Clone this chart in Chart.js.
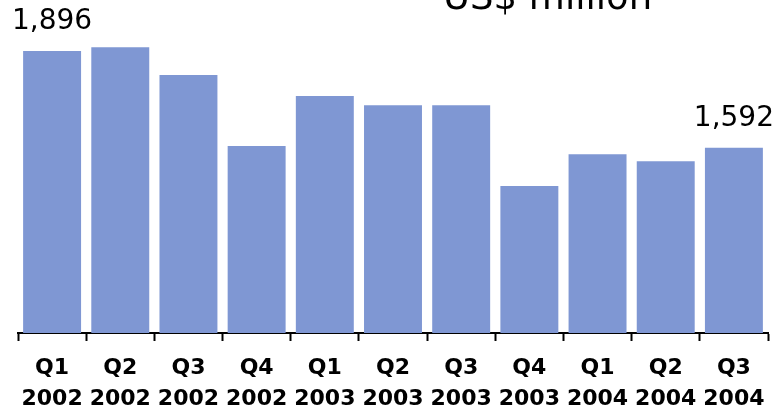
<!DOCTYPE html>
<html>
<head>
<meta charset="utf-8">
<script src="https://cdn.jsdelivr.net/npm/chart.js@4"></script>
<style>
  html, body { margin: 0; padding: 0; background: #ffffff; }
  #wrap { width: 775px; height: 410px; position: relative; }
</style>
</head>
<body>
<div id="wrap"><canvas id="c"></canvas></div>
<script>
const quarters = ["Q1","Q2","Q3","Q4","Q1","Q2","Q3","Q4","Q1","Q2","Q3"];
const years = ["2002","2002","2002","2002","2003","2003","2003","2003","2004","2004","2004"];
const revenue = [1896, 1908, 1821, 1598, 1755, 1726, 1726, 1472, 1572, 1550, 1592];
const labelledIndexes = [0, 10];
const unitTitle = "US$ million";
const yMin = 1010;
const yMax = 2000;

const categories = quarters.map((q, i) => [q, years[i]]);

const extrasPlugin = {
  id: 'extras',
  afterDatasetsDraw(chart) {
    const ctx = chart.ctx;
    const meta = chart.getDatasetMeta(0);
    ctx.save();
    ctx.fillStyle = '#000000';
    ctx.font = '28px "DejaVu Sans"';
    ctx.textAlign = 'center';
    ctx.textBaseline = 'alphabetic';
    labelledIndexes.forEach(i => {
      const bar = meta.data[i];
      ctx.fillText(revenue[i].toLocaleString('en-US'), bar.x, bar.y - 22);
    });
    ctx.font = '37px "DejaVu Sans"';
    ctx.textAlign = 'left';
    ctx.fillText(unitTitle, 443, 9);
    ctx.restore();
  }
};

new Chart(document.getElementById('c'), {
  type: 'bar',
  data: {
    labels: categories,
    datasets: [{
      data: revenue,
      backgroundColor: '#7F97D3',
      borderWidth: 0,
      barPercentage: 0.85,
      categoryPercentage: 1.0
    }]
  },
  options: {
    responsive: true,
    maintainAspectRatio: false,
    animation: false,
    layout: { padding: { top: 18, left: 18, right: 7, bottom: 0 } },
    plugins: {
      legend: { display: false },
      tooltip: { enabled: false },
      title: { display: false }
    },
    scales: {
      y: {
        display: false,
        min: yMin,
        max: yMax
      },
      x: {
        afterFit(scale) {
          scale.height = 77;
          scale.paddingLeft = 0;
          scale.paddingRight = 0;
        },
        border: { display: true, color: '#000000', width: 2 },
        grid: {
          display: true,
          offset: true,
          drawOnChartArea: false,
          drawTicks: true,
          tickLength: 8,
          tickWidth: 2,
          tickColor: '#000000'
        },
        ticks: {
          color: '#000000',
          padding: 12,
          maxRotation: 0,
          autoSkip: false,
          font: { family: '"DejaVu Sans"', size: 22, weight: 'bold', lineHeight: 1.4 }
        }
      }
    }
  },
  plugins: [extrasPlugin]
});
</script>
</body>
</html>
